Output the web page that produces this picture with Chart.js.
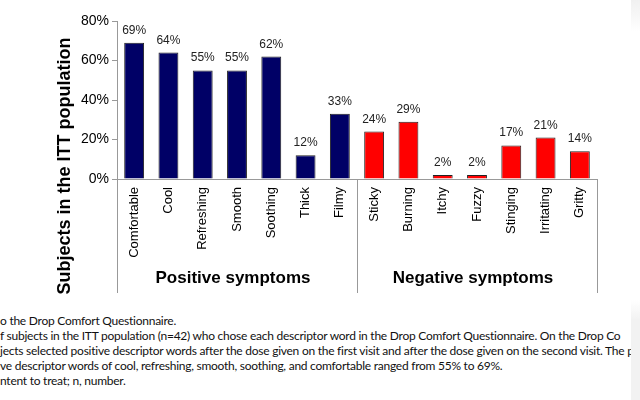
<!DOCTYPE html>
<html>
<head>
<meta charset="utf-8">
<script src="https://cdn.jsdelivr.net/npm/chart.js@4.4.1/dist/chart.umd.min.js"></script>
<style>
  html, body { margin: 0; padding: 0; background: #fff; overflow: hidden; }
  #wrap { position: relative; width: 640px; height: 400px; }
  #chart { position: absolute; left: 0; top: 0; }
  #caption {
    position: absolute; left: 0; top: 313px; width: 631px; overflow: hidden;
    font-family: Lato, 'Open Sans', sans-serif; font-size: 12px; letter-spacing: -0.25px;
    line-height: 15px; color: #111; white-space: nowrap;
  }
  .edge { position: absolute; right: 0; width: 9px; }
</style>
</head>
<body>
<div id="wrap">
  <canvas id="chart" width="640" height="300"></canvas>
  <div id="caption">
    <div>o the Drop Comfort Questionnaire.</div>
    <div>f subjects in the ITT population (n=42) who chose each descriptor word in the Drop Comfort Questionnaire. On the Drop Co</div>
    <div>jects selected positive descriptor words after the dose given on the first visit and after the dose given on the second visit. The p</div>
    <div>ve descriptor words of cool, refreshing, smooth, soothing, and comfortable ranged from 55% to 69%.</div>
    <div>ntent to treat; n, number.</div>
  </div>
  <div class="edge" style="top:0;height:32px;background:linear-gradient(to bottom,#f0f0f0,#fff);"></div>
  <div class="edge" style="top:300px;height:100px;background:linear-gradient(to bottom,#fff,#f2f2f2 20%,#f2f2f2);"></div>
</div>
<script>
// Chart data
const descriptors = ['Comfortable', 'Cool', 'Refreshing', 'Smooth', 'Soothing', 'Thick', 'Filmy',
                     'Sticky', 'Burning', 'Itchy', 'Fuzzy', 'Stinging', 'Irritating', 'Gritty'];
const subjectPercents = [69, 64, 55, 55, 62, 12, 33, 24, 29, 2, 2, 17, 21, 14];
const groupNames = ['Positive symptoms', 'Negative symptoms'];
const groupSizes = [7, 7];
const yTicks = [0, 20, 40, 60, 80];
const groupColors = ['#000066', '#ff0000'];

// which group each bar belongs to
const barGroup = descriptors.map((d, i) => (i < groupSizes[0] ? 0 : 1));

const axisGrey = '#999999';

// Draws value labels, group lines / names and the y title
const extrasPlugin = {
    id: 'extras',
    afterDraw(chart) {
        const ctx = chart.ctx;
        const area = chart.chartArea;
        const meta = chart.getDatasetMeta(0);
        ctx.save();

        // value labels on bars
        ctx.fillStyle = '#222';
        ctx.font = '12px Arial, "Liberation Sans", sans-serif';
        ctx.textAlign = 'center';
        ctx.textBaseline = 'alphabetic';
        meta.data.forEach((bar, i) => {
            ctx.fillText(subjectPercents[i] + '%', bar.x, bar.y - 9);
        });

        // group boundaries
        const bounds = [area.left];
        let idx = 0;
        groupSizes.forEach((n, g) => {
            idx += n;
            if (g < groupSizes.length - 1) {
                bounds.push((meta.data[idx - 1].x + meta.data[idx].x) / 2);
            }
        });
        bounds.push(area.right);

        ctx.strokeStyle = axisGrey;
        ctx.lineWidth = 1;
        bounds.forEach(x => {
            const px = Math.round(x) + 0.5;
            ctx.beginPath();
            ctx.moveTo(px, area.bottom);
            ctx.lineTo(px, 293);
            ctx.stroke();
        });

        // group names
        ctx.fillStyle = '#000';
        ctx.font = 'bold 17px Arial, "Liberation Sans", sans-serif';
        groupNames.forEach((name, g) => {
            ctx.fillText(name, (bounds[g] + bounds[g + 1]) / 2 - 4, 283);
        });

        // y axis title
        ctx.translate(70, 166);
        ctx.rotate(-Math.PI / 2);
        ctx.font = 'bold 18px Arial, "Liberation Sans", sans-serif';
        ctx.fillText('Subjects in the ITT population', 0, 0);

        ctx.restore();
    }
};

const ctx = document.getElementById('chart').getContext('2d');
const chart = new Chart(ctx, {
    type: 'bar',
    data: {
        labels: descriptors,
        datasets: [{
            data: subjectPercents,
            backgroundColor: barGroup.map(g => groupColors[g]),
            borderColor: '#222',
            borderWidth: 1,
            categoryPercentage: 1,
            barPercentage: 0.58
        }]
    },
    options: {
        responsive: false,
        animation: false,
        layout: {
            padding: { left: 0, top: 21, right: 43, bottom: 0 }
        },
        plugins: {
            legend: { display: false },
            tooltip: { enabled: false }
        },
        scales: {
            x: {
                grid: { display: true, drawOnChartArea: false, drawTicks: false },
                border: { display: true, color: axisGrey },
                ticks: {
                    minRotation: 90,
                    maxRotation: 90,
                    padding: 8,
                    color: '#000',
                    font: { family: 'Arial, "Liberation Sans", sans-serif', size: 13 }
                },
                afterFit(scale) { scale.height = 121; }
            },
            y: {
                min: 0,
                max: 80,
                grid: { drawOnChartArea: false, tickLength: 5, color: axisGrey },
                border: { display: true, color: axisGrey },
                ticks: {
                    padding: 3,
                    color: '#000',
                    font: { family: 'Arial, "Liberation Sans", sans-serif', size: 14 },
                    callback: v => v + '%'
                },
                afterBuildTicks(scale) { scale.ticks = yTicks.map(v => ({ value: v })); },
                afterFit(scale) { scale.width = 117; }
            }
        }
    },
    plugins: [extrasPlugin]
});
</script>
</body>
</html>
